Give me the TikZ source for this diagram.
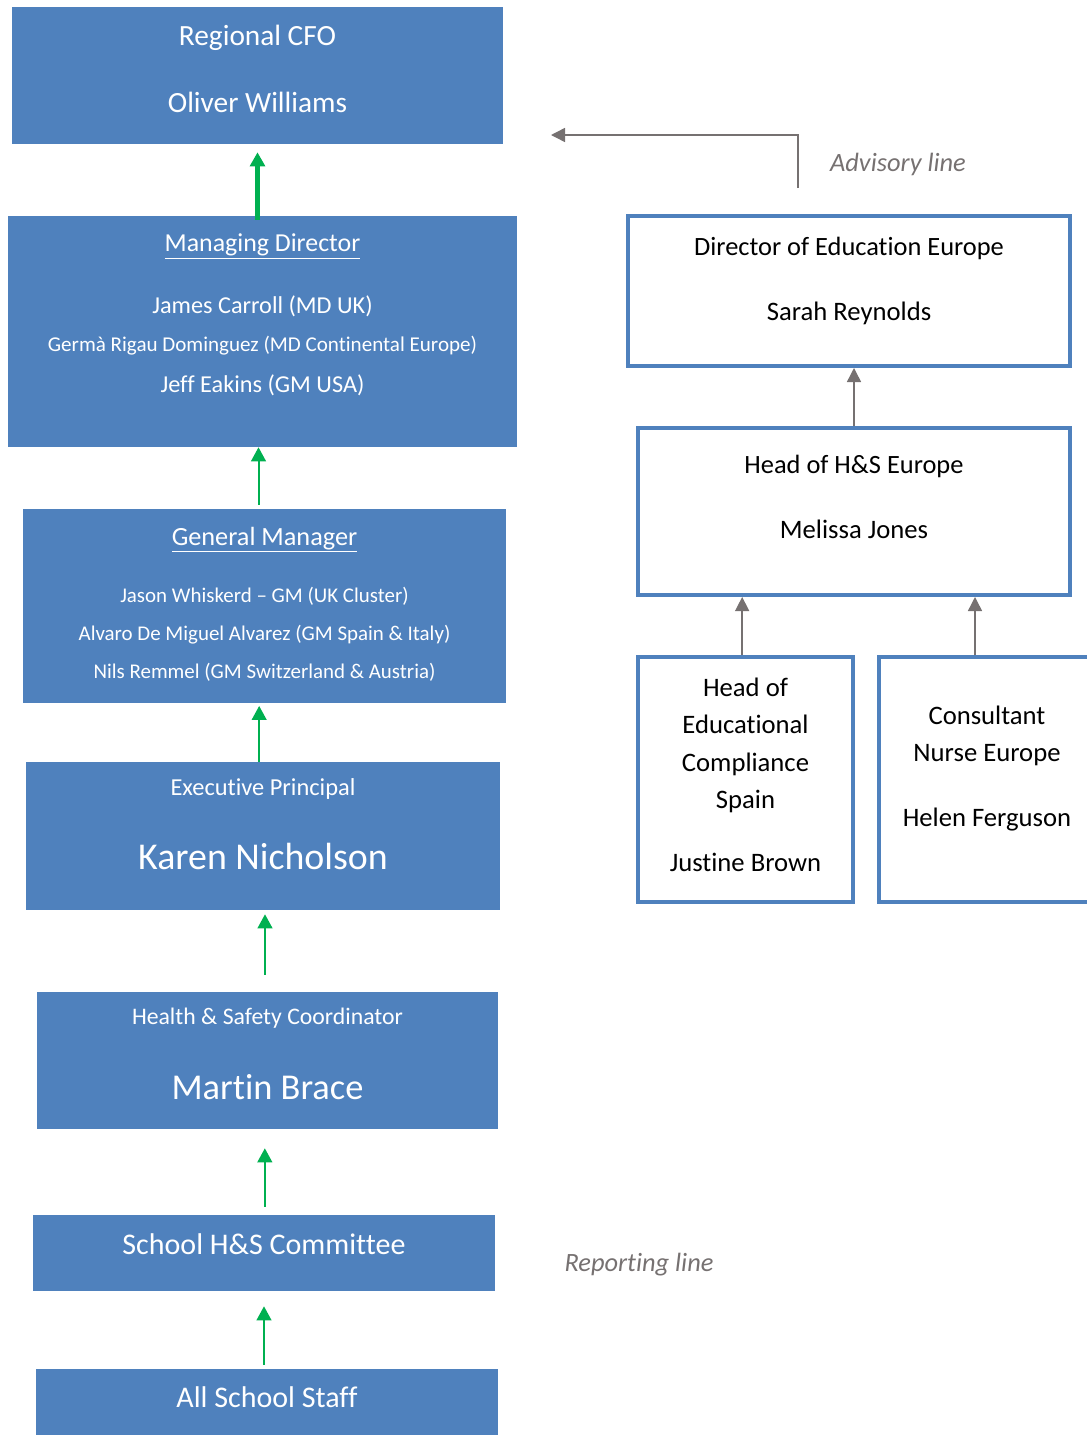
\documentclass[tikz,border=0pt]{standalone}
\usepackage{fontspec}
\setmainfont{Carlito}[Ligatures=NoCommon]
\usetikzlibrary{arrows.meta,calc,positioning}
\definecolor{boxblue}{HTML}{4F81BD}
\definecolor{repgreen}{HTML}{00B050}
\definecolor{advgrey}{HTML}{767171}

\tikzset{
  bluebox/.style={fill=boxblue, draw=none, inner sep=0pt},
  whitebox/.style={draw=boxblue, line width=3pt, fill=white, inner sep=0pt},
  fs/.style={font=\fontsize{#1pt}{#1pt}\selectfont, inner sep=0pt,
             text height=.7\dimexpr#1pt\relax, text depth=0pt},
  wtxt/.style={text=white},
  ktxt/.style={text=black},
  legend/.style={text=advgrey, inner sep=0pt, font=\fontsize{19.8pt}{19.8pt}\selectfont\itshape,
                 text height=13.9pt, text depth=0pt},
  report/.style={draw=repgreen, line width=1.5pt, -{Triangle[width=11pt,length=10.5pt]}},
  advisory/.style={draw=advgrey, line width=1.1pt, -{Triangle[width=10.5pt,length=10.5pt]}},
}

\begin{document}
\begin{tikzpicture}[x=0.75pt, y=-0.75pt]
\useasboundingbox (0,0) rectangle (1086,1435);

% reporting column
\node[bluebox, minimum width=368.25pt, minimum height=102.75pt] (cfo) at (257.5,75.5) {};
\node[wtxt, fs=22] (cfoT1) at (cfo |- 0,31) {Regional CFO};
\node[wtxt, fs=22] (cfoT2) at (cfo |- 0,98) {Oliver Williams};

\node[bluebox, minimum width=381.75pt, minimum height=173.25pt] (md) at (262.5,331.5) {};
\node[wtxt, fs=19.4] (mdT1) at (md |- 0,239) {\underline{Managing Director}};
\node[wtxt, fs=18.2] (mdT2) at (md |- 0,301) {James Carroll (MD UK)};
\node[wtxt, fs=15.8] (mdT3) at (md |- 0,341) {Germà Rigau Dominguez (MD Continental Europe)};
\node[wtxt, fs=18.2] (mdT4) at (md |- 0,380) {Jeff Eakins (GM USA)};

\node[bluebox, minimum width=362.25pt, minimum height=145.5pt] (gm) at (264.5,606) {};
\node[wtxt, fs=19.7] (gmT1) at (gm |- 0,532) {\underline{General Manager}};
\node[wtxt, fs=15.7] (gmT2) at (gm |- 0,592) {Jason Whiskerd – GM (UK Cluster)};
\node[wtxt, fs=15.7] (gmT3) at (gm |- 0,630) {Alvaro De Miguel Alvarez (GM Spain \& Italy)};
\node[wtxt, fs=15.7] (gmT4) at (gm |- 0,668) {Nils Remmel (GM Switzerland \& Austria)};

\node[bluebox, minimum width=355.5pt, minimum height=111pt] (ep) at (263,836) {};
\node[wtxt, fs=18.3] (epT1) at (ep |- 0,783) {Executive Principal};
\node[wtxt, fs=28.4] (epT2) at (ep |- 0,851) {Karen Nicholson};

\node[bluebox, minimum width=345.75pt, minimum height=102.75pt] (hsc) at (267.5,1060.5) {};
\node[wtxt, fs=17.8] (hscT1) at (hsc |- 0,1013) {Health \& Safety Coordinator};
\node[wtxt, fs=27.3] (hscT2) at (hsc |- 0,1081) {Martin Brace};

\node[bluebox, minimum width=346.5pt, minimum height=57pt] (com) at (264,1253) {};
\node[wtxt, fs=22.5] (comT1) at (com |- 0,1239) {School H\&S Committee};

\node[bluebox, minimum width=346.5pt, minimum height=50.25pt] (staff) at (267,1402.5) {};
\node[wtxt, fs=22.5] (staffT1) at (staff |- 0,1392) {All School Staff};

\draw[report, line width=3.2pt, shorten <=-3pt, shorten >=6pt] (md.north -| cfo.south) -- (cfo.south);
\draw[report, shorten <=3pt] ([xshift=-3pt]gm.north -| md.south) -- ([xshift=-3pt]md.south);
\draw[report, shorten >=2pt] ([xshift=-4pt]ep.north -| gm.south) -- ([xshift=-4pt]gm.south);
\draw[report, shorten <=12.75pt, shorten >=3pt] ([xshift=1.5pt]hsc.north -| ep.south) -- ([xshift=1.5pt]ep.south);
\draw[report, shorten <=6pt, shorten >=14.25pt] ([xshift=-2pt]com.north -| hsc.south) -- ([xshift=-2pt]hsc.south);
\draw[report, shorten <=3pt, shorten >=11.25pt] (staff.north -| com.south) -- (com.south);

% advisory column
\node[whitebox, minimum width=331.5pt, minimum height=112.5pt] (dired) at (849,291) {};
\node[ktxt, fs=19.8] (diredT1) at (dired |- 0,242) {Director of Education Europe};
\node[ktxt, fs=20] (diredT2) at (dired |- 0,307) {Sarah Reynolds};

\node[whitebox, minimum width=324pt, minimum height=125.25pt] (hse) at (854,511.5) {};
\node[ktxt, fs=19.8] (hseT1) at (hse |- 0,460) {Head of H\&S Europe};
\node[ktxt, fs=20] (hseT2) at (hse |- 0,525) {Melissa Jones};

\node[whitebox, minimum width=161.25pt, minimum height=183.75pt] (hec) at (745.5,779.5) {};
\node[ktxt, fs=20] (hecT1) at (hec |- 0,683) {Head of};
\node[ktxt, fs=20] (hecT2) at (hec |- 0,720) {Educational};
\node[ktxt, fs=20] (hecT3) at (hec |- 0,758) {Compliance};
\node[ktxt, fs=20] (hecT4) at (hec |- 0,795) {Spain};
\node[ktxt, fs=20] (hecT5) at (hec |- 0,858) {Justine Brown};

\node[whitebox, minimum width=162pt, minimum height=183.75pt] (cons) at (987,779.5) {};
\node[ktxt, fs=20] (consT1) at (cons |- 0,711) {Consultant};
\node[ktxt, fs=20] (consT2) at (cons |- 0,748) {Nurse Europe};
\node[ktxt, fs=20] (consT3) at (cons |- 0,813) {Helen Ferguson};

\draw[advisory] (hse.north) -- (hse.north |- dired.south);
\draw[advisory] ([xshift=-2.5pt]hec.north) -- ([xshift=-2.5pt]hec.north |- hse.south);
\draw[advisory] ([xshift=-9pt]cons.north) -- ([xshift=-9pt]cons.north |- hse.south);

% legend
\coordinate (advA) at (798,188);
\coordinate (advB) at (798,135);
\coordinate (advC) at (551,135);
\draw[advisory] (advA) -- (advB) -- (advC);
\node[legend] (advT) at (898,162) {Advisory line};
\node[legend] (repT) at (639,1262) {Reporting line};

\end{tikzpicture}
\end{document}
